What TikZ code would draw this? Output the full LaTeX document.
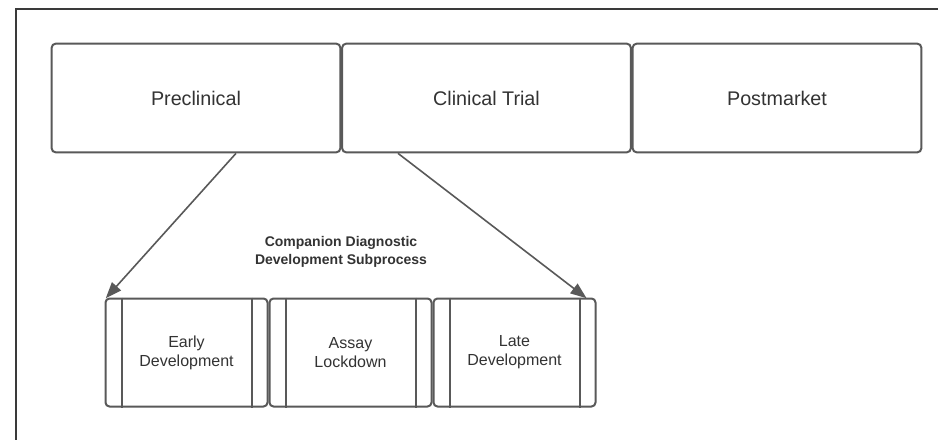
\documentclass[tikz,border=0pt]{standalone}
\usepackage{fontspec}
\setmainfont{Liberation Sans}
\usetikzlibrary{arrows.meta}
\definecolor{boxline}{HTML}{595959}
\definecolor{txt}{HTML}{333333}
\definecolor{frame}{HTML}{3A3A3A}
\begin{document}
\begin{tikzpicture}[x=0.75pt,y=-0.75pt,
  topbox/.style={draw=boxline,line width=1.5pt,rounded corners=3pt,minimum width=216.5pt,minimum height=81.5pt,inner sep=0pt,text=txt,font=\fontsize{14.8}{18}\selectfont},
  subbox/.style={draw=boxline,line width=1.5pt,rounded corners=3pt,minimum width=121.5pt,minimum height=81pt,inner sep=0pt,text=txt,align=center,font=\fontsize{12}{14.3}\selectfont},
  arr/.style={draw=boxline,line width=1.2pt,-{Triangle[length=12pt,width=9pt]}},
  side/.style={draw=boxline,line width=1.5pt}]
\useasboundingbox (0,0) rectangle (938,439);
\fill[white] (0,0) rectangle (938,439);
\draw[frame,line width=1.5pt] (16,445) -- (16,9) -- (945,9);
\node[topbox] (pre) at (196,98) {Preclinical};
\node[topbox] (cli) at (486.5,98) {Clinical Trial};
\node[topbox] (post) at (777,98) {Postmarket};
\node[subbox] (s1) at (186.5,352.5) {Early\\Development};
\node[subbox] (s2) at (350.5,352.5) {Assay\\Lockdown};
\node[subbox] (s3) at (514.5,352.5) {Late\\Development};
\foreach \n in {s1,s2,s3}{
  \draw[side] ([xshift=12.75pt]\n.north west) -- ([xshift=12.75pt]\n.south west);
  \draw[side] ([xshift=-12.75pt]\n.north east) -- ([xshift=-12.75pt]\n.south east);
}
\node[font=\bfseries\fontsize{10.5}{13.7}\selectfont,text=txt,align=center] (lbl) at (341,252) {Companion Diagnostic\\Development Subprocess};
\draw[arr] ([xshift=30pt]pre.south) -- ([xshift=1pt,yshift=-0.5pt]s1.north west);
\draw[arr] ([xshift=-66.4pt]cli.south) -- ([xshift=-7.5pt,yshift=-0.5pt]s3.north east);
\end{tikzpicture}
\end{document}
